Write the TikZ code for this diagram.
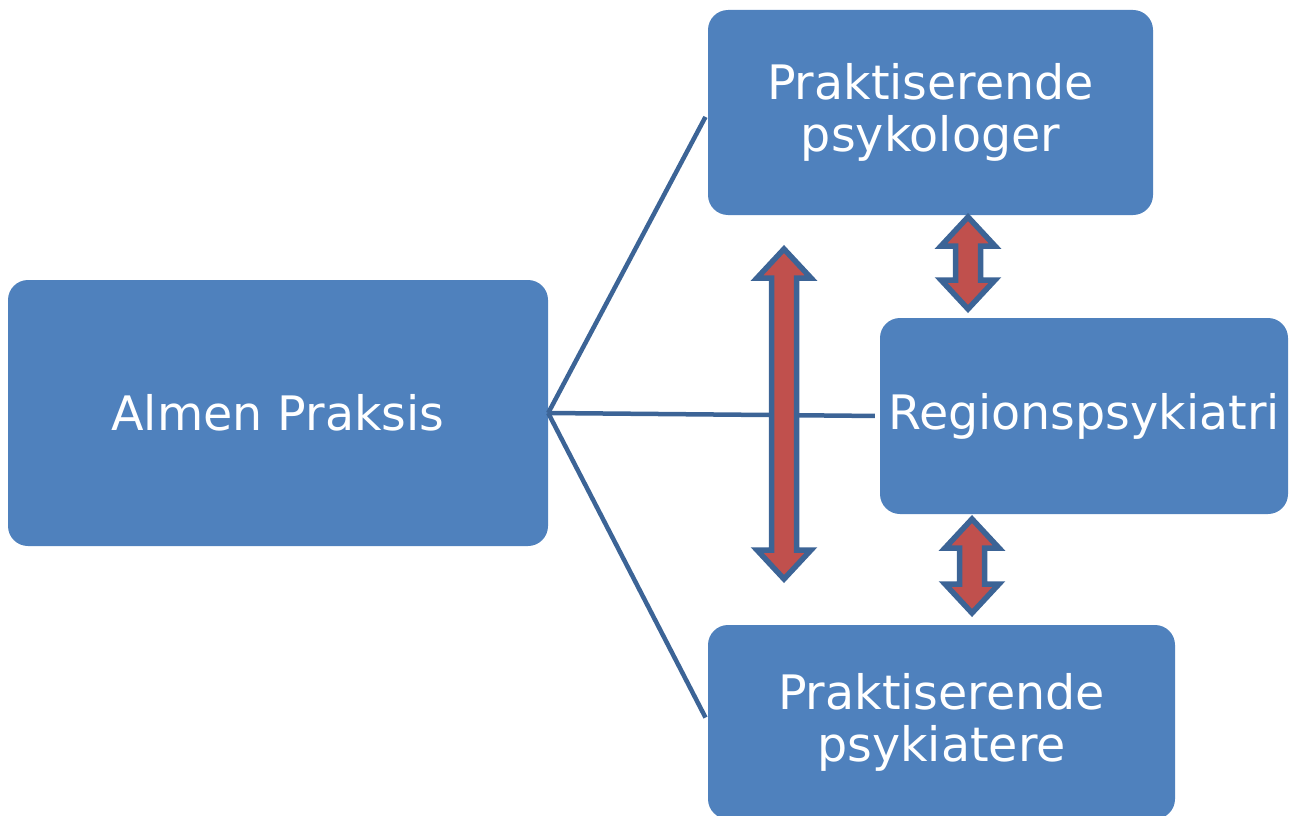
\documentclass[tikz,border=0pt]{standalone}
\usepackage{fontspec}
\setmainfont{DejaVu Sans}
\definecolor{boxblue}{RGB}{79,129,189}
\definecolor{linkblue}{RGB}{60,100,150}
\definecolor{arrowred}{RGB}{192,80,77}
\tikzset{
 unit/.style={rectangle, rounded corners=20pt, fill=boxblue, text=white, align=center,
  font=\fontsize{47.5}{52}\selectfont, inner sep=0pt},
 link/.style={draw=linkblue, line width=4.5pt, shorten >=5pt},
 twoway/.style={draw=linkblue, fill=arrowred, line width=5.5pt, line join=miter}
}
\begin{document}
\begin{tikzpicture}[x=1pt,y=-1pt]
 \useasboundingbox (0,0) rectangle (1290,816);
 \clip (0,0) rectangle (1290,816);
 % the four units
 \node[unit, minimum width=540pt, minimum height=266pt] (almen) at (278,413) {Almen Praksis};
 \node[unit, minimum width=445pt, minimum height=205pt] (psykologer) at (930.5,112.5) {Praktiserende\\psykologer};
 \node[unit, minimum width=408pt, minimum height=196pt] (region) at (1084,416) {Regionspsykiatri};
 \node[unit, minimum width=467pt, minimum height=194pt] (psykiatere) at (941.5,722) {Praktiserende\\psykiatere};
 % lines out of almen praksis
 \foreach \n in {psykologer,region,psykiatere}
  \draw[link] (almen.east) -- (\n.west);
 % double arrows: x / top tip / bottom tip
 \foreach \x/\a/\b in {784/249/579, 968/217/309, 972/519/613}{
  \draw[twoway] (\x,\a) -- (\x+27,\a+29) -- (\x+12.5,\a+29) -- (\x+12.5,\b-29) -- (\x+27,\b-29)
   -- (\x,\b) -- (\x-27,\b-29) -- (\x-12.5,\b-29) -- (\x-12.5,\a+29) -- (\x-27,\a+29) -- cycle;}
\end{tikzpicture}
\end{document}
